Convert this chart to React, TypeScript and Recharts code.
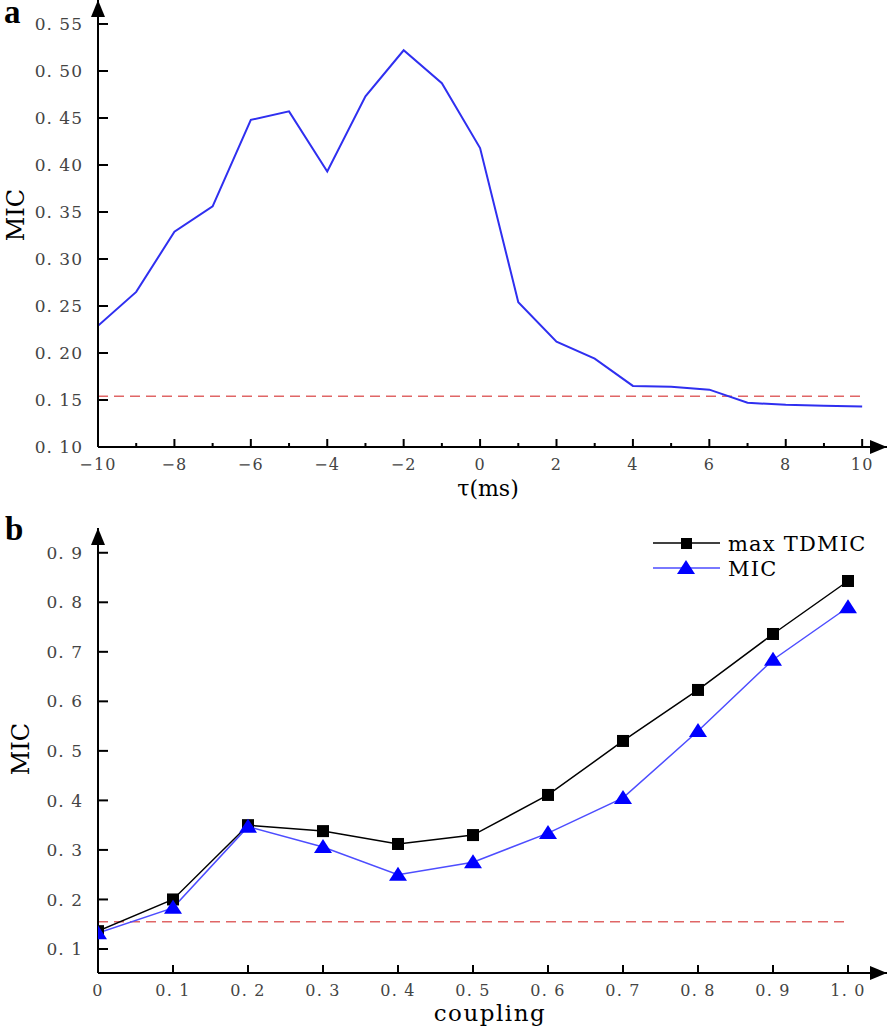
import React from 'react';
import { LineChart, Line, XAxis, YAxis, ReferenceLine, ReferenceDot, Legend, Label } from 'recharts';

// ---------- Panel a data ----------
const tauValues = [-10, -9, -8, -7, -6, -5, -4, -3, -2, -1, 0, 1, 2, 3, 4, 5, 6, 7, 8, 9, 10];
const micByTau = [0.229, 0.265, 0.329, 0.356, 0.448, 0.457, 0.393, 0.473, 0.522, 0.487, 0.418, 0.254, 0.212, 0.194, 0.165, 0.164, 0.161, 0.147, 0.145, 0.144, 0.143];
const thresholdA = 0.154;
const tauTicks = [-10, -9, -8, -7, -6, -5, -4, -3, -2, -1, 0, 1, 2, 3, 4, 5, 6, 7, 8, 9, 10];
const micTicksA = [0.1, 0.15, 0.2, 0.25, 0.3, 0.35, 0.4, 0.45, 0.5, 0.55];

// ---------- Panel b data ----------
const couplingValues = [0, 0.1, 0.2, 0.3, 0.4, 0.5, 0.6, 0.7, 0.8, 0.9, 1.0];
const maxTdmic = [0.136, 0.2, 0.35, 0.338, 0.312, 0.33, 0.411, 0.52, 0.623, 0.736, 0.843];
const micB = [0.132, 0.183, 0.347, 0.306, 0.25, 0.275, 0.334, 0.405, 0.54, 0.684, 0.79];
const thresholdB = 0.155;
const couplingTicks = [0, 0.1, 0.2, 0.3, 0.4, 0.5, 0.6, 0.7, 0.8, 0.9, 1.0];
const micTicksB = [0.1, 0.2, 0.3, 0.4, 0.5, 0.6, 0.7, 0.8, 0.9];

const dataA = tauValues.map((t, i) => ({ tau: t, mic: micByTau[i] }));
const dataB = couplingValues.map((c, i) => ({ coupling: c, maxTdmic: maxTdmic[i], mic: micB[i] }));

const SERIF = '"DejaVu Serif", "Liberation Serif", serif';
const TICK_FILL = '#444';

const fmtA = (v: number) => v.toFixed(2).replace('.', '. ');
const fmtB = (v: number) => (v === 0 ? '0' : v.toFixed(1).replace('.', '. '));
const fmtTau = (v: number) => (v < 0 ? '\u2212' + Math.abs(v) : String(v));

const makeYTick = (fmt: (v: number) => string) => (props: any) => {
  const { x, y, payload } = props;
  return (
    <g>
      <line x1={x} x2={x + 10} y1={y} y2={y} stroke="#000" strokeWidth={2} />
      <text x={x - 15} y={y} dy="0.36em" textAnchor="end" fontFamily={SERIF} fontSize={17} letterSpacing={1} fill={TICK_FILL}>
        {fmt(payload.value)}
      </text>
    </g>
  );
};

const makeXTick = (fmt: (v: number) => string, isMajor: (v: number) => boolean) => (props: any) => {
  const { x, y, payload } = props;
  const major = isMajor(payload.value);
  return (
    <g>
      <line x1={x} x2={x} y1={y} y2={y - (major ? 8 : 4)} stroke="#000" strokeWidth={2} />
      {major && (
        <text x={x} y={y + 17} dy="0.36em" textAnchor="middle" fontFamily={SERIF} fontSize={16} letterSpacing={1.2} fill={TICK_FILL}>
          {fmt(payload.value)}
        </text>
      )}
    </g>
  );
};

const ArrowRight = (props: any) => {
  const { cx, cy } = props;
  return <polygon points={`${cx},${cy} ${cx - 17},${cy - 7} ${cx - 17},${cy + 7}`} fill="#000" />;
};
const ArrowUp = (props: any) => {
  const { cx, cy } = props;
  return <polygon points={`${cx},${cy} ${cx - 7},${cy + 17} ${cx + 7},${cy + 17}`} fill="#000" />;
};

const SquareDot = (props: any) => {
  const { cx, cy, index } = props;
  return <rect key={`sq-${index}`} x={cx - 6} y={cy - 6} width={12} height={12} fill="#000" />;
};
const TriangleDot = (props: any) => {
  const { cx, cy, index } = props;
  return <polygon key={`tr-${index}`} points={`${cx},${cy - 8} ${cx - 9},${cy + 6} ${cx + 9},${cy + 6}`} fill="#0000ff" />;
};

const LegendBox = () => (
  <svg width={240} height={58} style={{ display: 'block' }}>
    <line x1={3} x2={70} y1={13} y2={13} stroke="#000" strokeWidth={1.5} />
    <rect x={31} y={8} width={11} height={11} fill="#000" />
    <text x={78} y={13} dy="0.36em" fontFamily={SERIF} fontSize={21} letterSpacing={1.2} fill="#000">max TDMIC</text>
    <line x1={3} x2={70} y1={38} y2={38} stroke="#4d4dff" strokeWidth={1.5} />
    <polygon points="36,30 27,44 45,44" fill="#0000ff" />
    <text x={78} y={38} dy="0.36em" fontFamily={SERIF} fontSize={21} letterSpacing={1.2} fill="#000">MIC</text>
  </svg>
);

const axisStyle = { stroke: '#000', strokeWidth: 2 };

const panelLetter: React.CSSProperties = {
  position: 'absolute',
  fontFamily: '"Liberation Serif", serif',
  fontWeight: 'bold',
  fontSize: 33,
  lineHeight: '20px',
  height: 20,
};

export default function App() {
  return (
    <div style={{ position: 'absolute', left: 0, top: 0, width: 887, height: 1028, background: '#fff' }}>
      <div style={{ position: 'absolute', left: 0, top: 0 }}>
        <LineChart width={887} height={500} data={dataA} margin={{ top: 0, right: 0, left: 0, bottom: 0 }}>
          <XAxis
            dataKey="tau"
            type="number"
            domain={[-10, 10.65]}
            ticks={tauTicks}
            interval={0}
            height={53}
            tickSize={0}
            tickMargin={0}
            tickLine={false}
            axisLine={axisStyle}
            tick={makeXTick(fmtTau, (v) => v % 2 === 0)}
            allowDataOverflow
          >
            <Label
              content={() => (
                <text x={488} y={496} textAnchor="middle" fontFamily={SERIF} fontSize={22} fill="#000">τ(ms)</text>
              )}
            />
          </XAxis>
          <YAxis
            type="number"
            domain={[0.1, 0.5755]}
            ticks={micTicksA}
            interval={0}
            width={98}
            tickSize={0}
            tickMargin={0}
            tickLine={false}
            axisLine={axisStyle}
            tick={makeYTick(fmtA)}
            allowDataOverflow
          >
            <Label
              content={() => (
                <text x={15} y={215} dy="0.36em" textAnchor="middle" fontFamily={SERIF} fontSize={24} fill="#000" transform="rotate(-90 15 215)">MIC</text>
              )}
            />
          </YAxis>
          <ReferenceLine
            segment={[{ x: -10, y: thresholdA }, { x: 10, y: thresholdA }]}
            stroke="#e06666"
            strokeWidth={1.5}
            strokeDasharray="10 6"
            ifOverflow="visible"
          />
          <Line type="linear" dataKey="mic" stroke="#2f2ff0" strokeWidth={2} dot={false} isAnimationActive={false} />
          <ReferenceDot x={10.65} y={0.1} r={0} ifOverflow="visible" shape={ArrowRight} />
          <ReferenceDot x={-10} y={0.5755} r={0} ifOverflow="visible" shape={ArrowUp} />
        </LineChart>
      </div>

      <div style={{ position: 'absolute', left: 0, top: 500 }}>
        <LineChart width={887} height={528} data={dataB} margin={{ top: 28, right: 0, left: 0, bottom: 0 }}>
          <XAxis
            dataKey="coupling"
            type="number"
            domain={[0, 1.052]}
            ticks={couplingTicks}
            interval={0}
            height={55}
            tickSize={0}
            tickMargin={0}
            tickLine={false}
            axisLine={axisStyle}
            tick={makeXTick(fmtB, () => true)}
            allowDataOverflow
          >
            <Label
              content={() => (
                <text x={490} y={521} textAnchor="middle" fontFamily={SERIF} fontSize={23} letterSpacing={1.5} fontWeight="500" fill="#000">coupling</text>
              )}
            />
          </XAxis>
          <YAxis
            type="number"
            domain={[0.0515, 0.95]}
            ticks={micTicksB}
            interval={0}
            width={98}
            tickSize={0}
            tickMargin={0}
            tickLine={false}
            axisLine={axisStyle}
            tick={makeYTick(fmtB)}
            allowDataOverflow
          >
            <Label
              content={() => (
                <text x={20} y={249} dy="0.36em" textAnchor="middle" fontFamily={SERIF} fontSize={24} fill="#000" transform="rotate(-90 20 249)">MIC</text>
              )}
            />
          </YAxis>
          <ReferenceLine
            segment={[{ x: 0, y: thresholdB }, { x: 1.0, y: thresholdB }]}
            stroke="#e06666"
            strokeWidth={1.5}
            strokeDasharray="10 6"
            ifOverflow="visible"
          />
          <Line type="linear" dataKey="maxTdmic" name="max TDMIC" stroke="#000" strokeWidth={1.5} dot={SquareDot} isAnimationActive={false} />
          <Line type="linear" dataKey="mic" name="MIC" stroke="#4d4dff" strokeWidth={1.5} dot={TriangleDot} isAnimationActive={false} />
          <ReferenceDot x={1.052} y={0.0515} r={0} ifOverflow="visible" shape={ArrowRight} />
          <ReferenceDot x={0} y={0.95} r={0} ifOverflow="visible" shape={ArrowUp} />
          <Legend
            content={LegendBox}
            layout="vertical"
            align="center"
            verticalAlign="middle"
            wrapperStyle={{ top: 30, left: 650, width: 240, height: 58 }}
          />
        </LineChart>
      </div>

      <div style={{ ...panelLetter, left: 4, top: 2 }}>a</div>
      <div style={{ ...panelLetter, left: 5, top: 519 }}>b</div>
    </div>
  );
}
